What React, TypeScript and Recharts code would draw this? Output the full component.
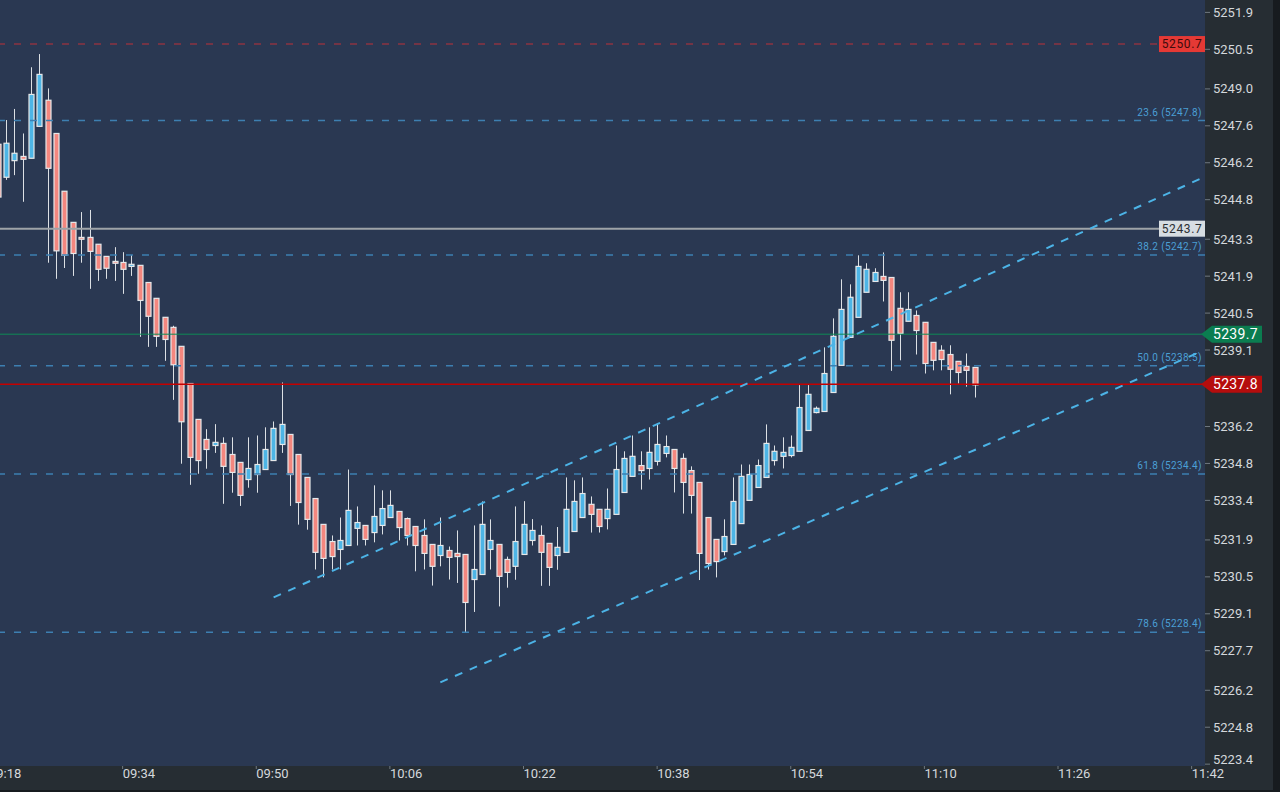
import { ComposedChart, Bar, XAxis, YAxis, ReferenceLine, CartesianGrid } from "recharts";

// 1-minute bars, 09:19 -> 11:16
const times = [
  "09:19", "09:20", "09:21", "09:22", "09:23", "09:24", "09:25", "09:26", "09:27", "09:28",
  "09:29", "09:30", "09:31", "09:32", "09:33", "09:34", "09:35", "09:36", "09:37", "09:38",
  "09:39", "09:40", "09:41", "09:42", "09:43", "09:44", "09:45", "09:46", "09:47", "09:48",
  "09:49", "09:50", "09:51", "09:52", "09:53", "09:54", "09:55", "09:56", "09:57", "09:58",
  "09:59", "10:00", "10:01", "10:02", "10:03", "10:04", "10:05", "10:06", "10:07", "10:08",
  "10:09", "10:10", "10:11", "10:12", "10:13", "10:14", "10:15", "10:16", "10:17", "10:18",
  "10:19", "10:20", "10:21", "10:22", "10:23", "10:24", "10:25", "10:26", "10:27", "10:28",
  "10:29", "10:30", "10:31", "10:32", "10:33", "10:34", "10:35", "10:36", "10:37", "10:38",
  "10:39", "10:40", "10:41", "10:42", "10:43", "10:44", "10:45", "10:46", "10:47", "10:48",
  "10:49", "10:50", "10:51", "10:52", "10:53", "10:54", "10:55", "10:56", "10:57", "10:58",
  "10:59", "11:00", "11:01", "11:02", "11:03", "11:04", "11:05", "11:06", "11:07", "11:08",
  "11:09", "11:10", "11:11", "11:12", "11:13", "11:14", "11:15", "11:16",
];

const opens = [
  5246.9, 5245.65, 5246.28, 5246.44, 5246.37, 5247.58, 5248.57, 5247.31, 5245.12, 5243.94,
  5243.37, 5243.37, 5243.11, 5242.65, 5242.46, 5242.42, 5242.27, 5242.31, 5241.66, 5241.06,
  5240.34, 5239.96, 5239.24, 5237.83, 5236.47, 5235.71, 5235.48, 5235.56, 5235.14, 5234.84,
  5234.19, 5234.38, 5234.57, 5234.91, 5235.52, 5235.9, 5235.14, 5234.27, 5233.47, 5232.49,
  5231.84, 5231.54, 5231.69, 5232.34, 5232.45, 5232.18, 5232.45, 5232.75, 5232.98, 5232.71,
  5232.41, 5232.07, 5231.73, 5231.31, 5231.5, 5231.39, 5231.35, 5230.4, 5230.59, 5231.54,
  5231.73, 5231.16, 5230.9, 5231.35, 5231.88, 5232.07, 5231.77, 5231.31, 5231.43, 5232.22,
  5232.75, 5233.25, 5233.06, 5232.71, 5232.87, 5233.7, 5234.31, 5234.72, 5234.61, 5234.88,
  5235.18, 5235.33, 5234.99, 5234.53, 5234.08, 5232.75, 5231.92, 5231.46, 5231.73, 5232.52,
  5233.4, 5233.89, 5234.27, 5234.91, 5235.07, 5235.1, 5235.26, 5236.05, 5236.73, 5236.77,
  5237.49, 5238.52, 5239.58, 5240.34, 5241.29, 5241.7, 5241.89, 5241.85, 5240.68, 5240.19,
  5240.41, 5240.15, 5239.39, 5239.09, 5238.93, 5238.67, 5238.48, 5238.44,
];

const highs = [
  5247.06, 5247.82, 5248.24, 5247.31, 5249.82, 5250.32, 5249.02, 5247.31, 5245.12, 5243.94,
  5244.33, 5244.41, 5243.11, 5242.65, 5243.0, 5242.81, 5242.7, 5242.31, 5241.66, 5241.06,
  5240.34, 5240.02, 5239.24, 5237.83, 5236.47, 5236.1, 5236.29, 5235.79, 5235.79, 5234.84,
  5235.79, 5235.86, 5236.17, 5236.39, 5237.87, 5235.9, 5235.14, 5234.27, 5233.47, 5232.49,
  5232.07, 5232.75, 5234.57, 5233.17, 5232.45, 5233.97, 5233.78, 5233.78, 5232.98, 5232.75,
  5232.41, 5232.68, 5231.73, 5232.75, 5231.65, 5232.26, 5231.35, 5232.45, 5233.36, 5232.68,
  5231.73, 5231.27, 5233.17, 5233.37, 5232.69, 5232.45, 5231.77, 5232.39, 5234.27, 5234.16,
  5234.27, 5233.55, 5233.06, 5233.85, 5235.48, 5235.26, 5235.86, 5235.26, 5236.17, 5236.32,
  5235.86, 5235.33, 5235.18, 5234.69, 5234.08, 5232.75, 5231.92, 5232.68, 5234.27, 5234.76,
  5234.76, 5234.95, 5236.28, 5235.48, 5235.79, 5235.86, 5237.77, 5237.77, 5236.96, 5239.2,
  5240.3, 5241.78, 5241.59, 5242.69, 5242.39, 5242.2, 5242.8, 5241.85, 5241.29, 5241.29,
  5240.6, 5240.15, 5239.39, 5239.28, 5239.28, 5238.67, 5238.97, 5238.44,
];

const lows = [
  5244.29, 5245.55, 5245.73, 5244.72, 5246.37, 5247.58, 5242.41, 5241.8, 5242.21, 5241.91,
  5242.41, 5241.42, 5241.72, 5241.8, 5241.72, 5241.23, 5241.91, 5239.6, 5239.22, 5239.22,
  5238.69, 5237.21, 5234.79, 5233.99, 5234.41, 5234.6, 5235.2, 5233.27, 5233.69, 5233.19,
  5233.88, 5233.69, 5234.57, 5234.91, 5235.2, 5233.19, 5232.48, 5232.29, 5230.78, 5230.48,
  5230.78, 5230.78, 5231.69, 5231.69, 5231.69, 5231.81, 5232.11, 5232.75, 5231.88, 5231.69,
  5230.71, 5230.78, 5230.17, 5230.9, 5230.4, 5230.27, 5228.38, 5229.17, 5230.59, 5230.78,
  5229.38, 5230.09, 5230.39, 5231.35, 5231.69, 5230.16, 5230.16, 5230.77, 5231.43, 5232.22,
  5232.75, 5232.18, 5232.18, 5232.3, 5232.87, 5233.7, 5234.31, 5233.81, 5234.19, 5234.72,
  5235.03, 5233.7, 5232.9, 5232.9, 5230.38, 5230.78, 5230.48, 5231.31, 5231.73, 5232.52,
  5233.4, 5233.89, 5234.27, 5234.72, 5234.61, 5235.03, 5235.26, 5236.05, 5236.7, 5236.77,
  5237.49, 5238.52, 5239.58, 5240.34, 5241.29, 5241.7, 5240.94, 5238.31, 5238.71, 5240.19,
  5238.93, 5238.21, 5238.33, 5238.33, 5237.42, 5237.83, 5237.71, 5237.3,
];

const closes = [
  5244.9, 5246.94, 5246.56, 5246.33, 5248.79, 5249.55, 5245.99, 5242.86, 5242.69, 5242.76,
  5243.3, 5242.84, 5242.16, 5242.2, 5242.39, 5242.16, 5242.35, 5240.98, 5240.38, 5239.62,
  5239.5, 5238.54, 5236.38, 5235.03, 5234.91, 5235.33, 5235.6, 5234.69, 5234.46, 5233.59,
  5234.61, 5234.76, 5235.33, 5236.13, 5236.28, 5234.38, 5233.32, 5232.68, 5231.43, 5231.2,
  5231.27, 5231.88, 5233.02, 5232.56, 5231.92, 5232.79, 5233.09, 5233.21, 5232.37, 5232.07,
  5231.69, 5231.39, 5230.9, 5231.69, 5231.24, 5231.27, 5229.53, 5230.78, 5232.49, 5231.88,
  5230.52, 5230.67, 5231.84, 5232.49, 5232.26, 5231.43, 5230.86, 5231.62, 5233.06, 5233.36,
  5233.66, 5232.87, 5232.41, 5233.06, 5234.57, 5234.99, 5235.07, 5234.53, 5235.22, 5235.52,
  5235.44, 5234.61, 5234.08, 5233.59, 5231.39, 5231.01, 5231.08, 5232.03, 5233.36, 5234.31,
  5234.38, 5234.72, 5235.56, 5235.26, 5235.22, 5235.41, 5236.92, 5237.42, 5236.89, 5238.21,
  5239.62, 5240.64, 5241.1, 5242.27, 5242.16, 5242.04, 5241.74, 5239.47, 5239.73, 5240.64,
  5239.84, 5238.59, 5238.71, 5238.74, 5238.37, 5238.25, 5238.33, 5237.78,
];

const xTickLabels = ["09:18", "09:34", "09:50", "10:06", "10:22", "10:38", "10:54", "11:10", "11:26", "11:42"];
const yTicks = [
  5251.9, 5250.5, 5249.0, 5247.6, 5246.2, 5244.8, 5243.3, 5241.9, 5240.5, 5239.1,
  5236.2, 5234.8, 5233.4, 5231.9, 5230.5, 5229.1, 5227.7, 5226.2, 5224.8, 5223.4,
];

const fibRatios = ["23.6", "38.2", "50.0", "61.8", "78.6"];
const fibPrices = [5247.8, 5242.7, 5238.5, 5234.4, 5228.4];

// channel endpoints: [minutes after 09:00, price]
const upperChannel = [[52.08, 5229.72], [162.95, 5245.58]];
const lowerChannel = [[72.04, 5226.5], [163.03, 5239.03]];

const alertPrice = 5250.7;
const prevClose = 5243.7;
const bidPrice = 5239.7;
const lastPrice = 5237.8;

const BG = "#2a3852";
const AXIS_BG = "#262d33";
const UP = "#4db5e6";
const DOWN = "#f4877f";
const FONT = "Roboto, sans-serif";

const toMin = (s: string) => {
  const [h, m] = s.split(":").map(Number);
  return (h - 9) * 60 + m;
};
const fmtMin = (v: number) => {
  const h = 9 + Math.floor(v / 60);
  const m = v % 60;
  return `${String(h).padStart(2, "0")}:${String(m).padStart(2, "0")}`;
};

const data = times.map((s, i) => ({
  t: toMin(s),
  open: opens[i],
  high: highs[i],
  low: lows[i],
  close: closes[i],
}));

const Candle = (props: any) => {
  const { x, y, width, height, payload } = props;
  if (!payload) return null;
  const { open, close, high, low } = payload;
  const top = Math.min(y, y + height);
  const span = Math.abs(height);
  const k = high === low ? 0 : span / (high - low);
  const cx = Math.round(x + width / 2) + 0.5;
  const yo = top + (high - open) * k;
  const yc = top + (high - close) * k;
  const bodyTop = Math.min(yo, yc);
  const bodyH = Math.max(Math.abs(yo - yc), 1.5);
  return (
    <g>
      <line x1={cx} x2={cx} y1={top} y2={top + span} stroke="#dce0e4" strokeWidth={1} />
      <rect x={cx - 2.5} y={bodyTop} width={5} height={bodyH} fill={close >= open ? UP : DOWN} stroke="#e6e8ea" strokeWidth={1.2} />
    </g>
  );
};

const FibLabel = ({ viewBox, text }: any) => {
  if (!viewBox) return null;
  return (
    <text x={viewBox.x + viewBox.width - 3} y={viewBox.y - 5} textAnchor="end" fill="#4b9fd5" fontSize={10} letterSpacing={0.4} fontFamily={FONT}>
      {text}
    </text>
  );
};

const BoxTag = ({ viewBox, text, fill, color }: any) => {
  if (!viewBox) return null;
  const right = viewBox.x + viewBox.width;
  return (
    <g>
      <rect x={right - 46} y={viewBox.y - 8} width={46} height={16} fill={fill} />
      <text x={right - 23} y={viewBox.y + 4} textAnchor="middle" fill={color} fontSize={12} letterSpacing={0.6} fontFamily={FONT}>
        {text}
      </text>
    </g>
  );
};

const ArrowTag = ({ viewBox, text, fill }: any) => {
  if (!viewBox) return null;
  const r = viewBox.x + viewBox.width;
  const y = viewBox.y;
  const d = `M${r - 4},${y} L${r + 7},${y - 8.5} L${r + 57},${y - 8.5} L${r + 57},${y + 8.5} L${r + 7},${y + 8.5} Z`;
  return (
    <g>
      <path d={d} fill={fill} />
      <text x={r + 8} y={y + 5} fill="#ffffff" fontSize={14} letterSpacing={0.3} fontFamily={FONT}>
        {text}
      </text>
    </g>
  );
};

const TimeTick = ({ x, y, payload }: any) => (
  <text x={x} y={y + 9} textAnchor="start" fill="#d4d8dc" fontSize={13} fontFamily={FONT}>
    {fmtMin(payload.value)}
  </text>
);

// bottom-most price label is nudged up so it sits above the time axis
const PriceTick = ({ x, y, payload }: any) => (
  <text x={x} y={Math.min(y, 759) + 4.5} textAnchor="start" fill="#d4d8dc" fontSize={13} fontFamily={FONT}>
    {Number(payload.value).toFixed(1)}
  </text>
);

export default function App() {
  return (
    <div style={{ position: "fixed", left: 0, top: 0, width: 1280, height: 792, overflow: "hidden", background: "#171b1f" }}>
      <div style={{ marginLeft: -11, width: 1284, height: 790, background: AXIS_BG }}>
        <ComposedChart width={1284} height={790} data={data} margin={{ top: 0, right: 0, left: 0, bottom: 0 }}>
          <CartesianGrid fill={BG} stroke="none" horizontal={false} vertical={false} />
          <XAxis
            dataKey="t"
            type="number"
            domain={[18, 163.6]}
            allowDataOverflow
            ticks={xTickLabels.map(toMin)}
            interval={0}
            height={24}
            tickSize={3}
            tickMargin={0}
            axisLine={false}
            tickLine={{ stroke: "#6f7880" }}
            tick={<TimeTick />}
          />
          <YAxis
            orientation="right"
            type="number"
            domain={[5223.33, 5252.37]}
            allowDataOverflow
            ticks={yTicks}
            interval={0}
            width={68}
            tickSize={5}
            tickMargin={3}
            axisLine={false}
            tickLine={{ stroke: "#6f7880" }}
            tick={<PriceTick />}
          />
          <Bar dataKey={(d: any) => [d.low, d.high]} barSize={7} shape={<Candle />} isAnimationActive={false} />
          {fibPrices.map((p, i) => (
            <ReferenceLine
              key={p}
              y={p}
              stroke="#3d7fb1"
              strokeWidth={1.5}
              strokeDasharray="7 9"
              label={<FibLabel text={`${fibRatios[i]} (${p.toFixed(1)})`} />}
            />
          ))}
          <ReferenceLine y={alertPrice} stroke="#8c3341" strokeWidth={1.5} strokeDasharray="7 9" label={<BoxTag text={alertPrice.toFixed(1)} fill="#e53935" color="#3d0c0c" />} />
          <ReferenceLine y={prevClose} stroke="#9ea3a8" strokeWidth={2} label={<BoxTag text={prevClose.toFixed(1)} fill="#d7dde2" color="#2b2f33" />} />
          <ReferenceLine y={bidPrice} stroke="#0e8a56" strokeWidth={1} label={<ArrowTag text={bidPrice.toFixed(1)} fill="#0b7d50" />} />
          <ReferenceLine y={lastPrice} stroke="#c40000" strokeWidth={1.5} label={<ArrowTag text={lastPrice.toFixed(1)} fill="#b50d0d" />} />
          <ReferenceLine
            segment={upperChannel.map(([x, y]) => ({ x, y }))}
            stroke="#4cb3e6"
            strokeWidth={2}
            strokeDasharray="8 8"
          />
          <ReferenceLine
            segment={lowerChannel.map(([x, y]) => ({ x, y }))}
            stroke="#4cb3e6"
            strokeWidth={2}
            strokeDasharray="8 8"
          />
        </ComposedChart>
      </div>
    </div>
  );
}
